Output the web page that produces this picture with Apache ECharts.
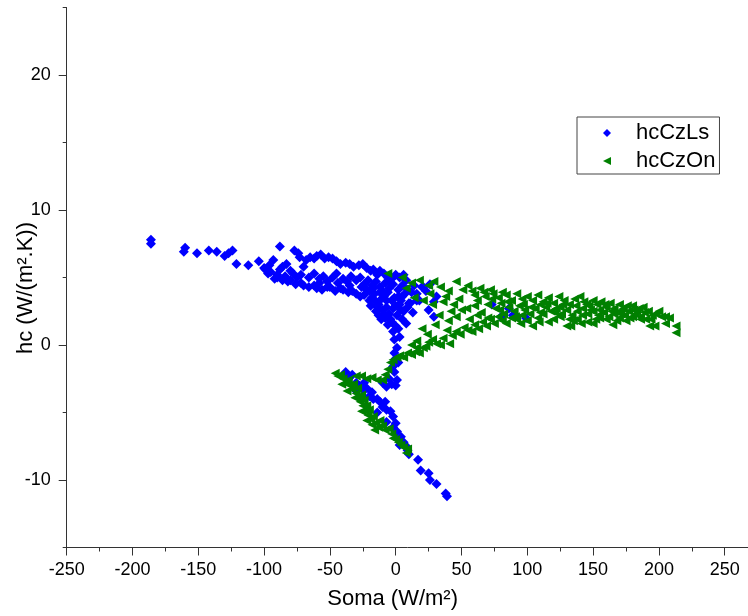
<!DOCTYPE html>
<html><head><meta charset="utf-8">
<script src="https://cdn.jsdelivr.net/npm/echarts@6/dist/echarts.min.js"></script>
<style>html,body{margin:0;padding:0;background:#fff}#c{width:748px;height:616px}</style>
</head><body><div id="c"></div>
<script>
const seriesNames = ['hcCzLs', 'hcCzOn'];
const xName = 'Soma (W/m²)';
const yName = 'hc (W/(m².K))';

// hcCzLs (blue diamonds): [Soma, hc]
const hcCzLs = [
[-186,7.8],[-186,7.5],[-160,7.2],[-161,6.9],[-151,6.8],[-142,7.0],[-136,6.9],[-130,6.6],[-127,6.8],[-124,7.0],
[-121,6.0],[-112,5.9],[-104,6.2],[-99,5.6],[-96,5.9],[-93,6.3],[-88,7.3],[-90,5.2],[-86,5.8],[-83,6.0],
[-80,5.5],[-77,7.0],[-74,6.8],[-73,6.5],[-70,5.8],[-68,6.3],[-65,6.5],[-62,6.4],[-60,6.6],[-57,6.7],
[-54,6.4],[-51,6.5],[-48,6.4],[-45,6.2],[-45,5.3],[-42,6.0],[-38,6.1],[-35,6.0],[-32,5.8],[-28,5.9],
[-25,6.0],[-22,5.7],[-19,5.5],[-17,5.6],[-14,5.2],[-12,5.5],[-9,5.3],[-6,5.0],[-3,4.9],[0,5.2],[3,5.0],[6,5.2],[8,4.8],
[-95,5.4],[-88,5.6],[-84,5.1],[-78,5.3],[-75,5.0],[-72,5.2],[-66,5.0],[-62,5.3],[-58,4.9],[-55,5.1],
[-52,4.7],[-48,5.0],[-44,4.6],[-40,4.9],[-37,4.7],[-34,5.1],[-30,4.8],[-27,5.0],[-24,4.5],[-21,4.8],
[-18,4.4],[-15,4.7],[-12,4.3],[-8,4.6],[-5,4.2],[-2,4.5],[2,4.1],[5,4.4],[9,4.1],[12,3.9],[16,3.8],[20,4.3],[23,4.0],[18,3.3],[11,3.1],
[-100,5.7],[-97,5.3],[-92,4.9],[-90,5.0],[-86,4.8],[-82,4.7],[-80,4.8],[-76,4.5],[-72,4.6],[-70,4.4],
[-66,4.3],[-62,4.4],[-60,4.2],[-56,4.1],[-52,4.3],[-50,4.3],[-46,4.0],[-42,4.2],[-40,4.1],[-36,3.9],
[-33,4.0],[-30,3.8],[-27,3.6],[-24,3.7],[-20,3.3],[-18,3.5],[-15,3.2],[-13,3.0],[-10,2.6],[-9,3.6],
[-7,2.8],[-5,2.3],[-4,1.9],[-2,2.7],[0,1.4],[1,2.2],[3,3.0],[5,1.9],[6,2.5],[-8,2.0],[-3,3.3],[2,3.6],
[-12,3.9],[-15,2.5],[-11,1.9],[-6,1.5],[-2,1.0],[-1,0.4],[3,0.6],[1,-0.2],[-1,-0.6],[0,-1.0],[-2,-1.6],
[-1,-2.0],[1,-2.6],[0,-3.0],[-3,-2.9],[-7,-3.1],[-10,-2.8],[-5,-2.5],[2,-1.3],
[10,3.1],[16,3.3],[21,4.3],[26,4.5],[29,3.2],[29,2.1],[31,3.6],[25,2.6],[13,2.4],[8,1.6],
[-20,4.0],[-16,3.8],[-11,3.4],[-6,3.9],[-1,3.5],[4,3.3],[7,3.8],[-14,2.8],[-9,2.3],[-3,1.7],[2,1.2],[4,2.6],[-17,4.2],[-22,4.1],
[-19,2.9],[-13,2.2],[-7,3.3],[0,2.9],[5,3.6],[9,2.8],[-4,4.6],[-10,4.0],[14,4.4],[-26,4.3],[-35,4.4],[-58,4.6],
[73,3.0],[80,2.1],[89,2.2],[99,2.0],[86,2.7],
[-38,-2.0],[-35,-2.4],[-33,-2.2],[-30,-2.8],[-28,-3.0],[-25,-3.3],[-22,-3.2],[-20,-3.8],[-17,-4.0],[-14,-4.0],
[-12,-4.2],[-10,-4.6],[-7,-4.8],[-4,-4.9],[-2,-5.3],[-7,-5.7],[-2,-6.1],[1,-6.4],[4,-6.8],[6,-7.2],
[8,-7.5],[10,-8.1],[17,-8.5],[19,-9.3],[25,-9.5],[26,-10.0],[31,-10.3],[38,-11.0],[39,-11.2],
[-26,-4.0],[-18,-3.5],[-8,-4.2],[-14,-5.0],[0,-5.8],[3,-7.4],[9,-7.8],[-30,-3.4],[-24,-2.8]
];

// hcCzOn (green left triangles): [Soma, hc]
const hcCzOn = [
[-46,-2.1],[-44,-2.3],[-42,-2.2],[-40,-2.5],[-38,-2.8],[-36,-2.6],[-35,-3.0],[-33,-3.3],[-32,-2.9],[-30,-3.6],
[-29,-3.2],[-28,-3.9],[-27,-4.2],[-26,-3.7],[-25,-4.5],[-24,-4.1],[-23,-4.9],[-22,-4.5],[-21,-5.2],[-20,-4.8],
[-19,-5.5],[-18,-5.9],[-17,-5.3],[-15,-5.8],[-13,-6.1],[-12,-5.6],[-10,-6.0],[-8,-6.3],[-5,-6.2],[-3,-6.6],
[-2,-6.9],[0,-7.0],[2,-7.2],[4,-7.4],[6,-7.6],[8,-8.0],[9,-7.7],[-31,-3.9],[-26,-4.9],[-22,-5.6],[-16,-6.3],[-37,-3.4],[-41,-2.9],
[-30,-2.3],[-26,-2.3],[-22,-2.5],[-18,-2.4],[-14,-2.6],[-10,-2.6],[-8,-2.2],[-6,-1.8],[-4,-1.3],[-2,-1.1],
[1,-0.9],[3,-0.8],[6,-0.9],[9,-0.6],[12,-0.7],[15,-0.5],[18,-0.6],[21,-0.2],[23,-0.1],[25,0.2],
[28,0.4],[31,0.1],[34,0.0],[36,0.5],[39,1.1],[41,0.1],[43,0.7],[46,1.0],[49,0.8],[52,1.3],
[55,1.1],[58,1.0],[60,1.5],[63,1.2],[66,1.7],[69,1.4],[72,1.9],[75,1.6],[78,2.1],[81,1.8],
[84,1.6],[88,2.0],[92,1.9],[96,2.2],[100,1.8],[104,1.4],[108,2.0],[112,2.3],[116,1.7],[120,1.9],
[125,2.1],[130,1.4],[133,1.4],[138,1.9],[142,2.2],[146,1.7],[150,1.6],[155,2.0],[160,1.9],[165,1.5],
[170,2.0],[175,1.8],[180,2.1],[186,1.9],[193,1.4],[197,1.4],[205,1.6],[213,1.4],[213,0.9],
[-6,5.3],[5,5.0],[12,4.6],[18,4.8],[25,4.4],[29,4.7],[34,4.3],[40,4.0],[46,4.7],[51,4.1],
[55,4.4],[58,4.0],[60,3.7],[64,4.2],[68,3.6],[72,4.1],[74,3.8],[78,3.5],[81,3.9],[84,3.7],
[88,3.3],[92,3.8],[96,3.4],[100,3.6],[104,3.3],[108,3.7],[112,3.2],[116,3.5],[120,3.1],[124,3.6],
[128,3.3],[132,3.0],[136,3.4],[140,3.6],[143,3.2],[147,2.9],[150,3.3],[153,3.0],[156,3.2],[160,2.8],
[163,3.1],[166,2.7],[170,3.0],[173,2.7],[177,2.5],[181,2.6],[185,2.7],[189,2.4],[192,2.5],[195,2.2],
[198,2.3],[202,2.1],[205,2.1],[208,2.0],
[14,3.5],[21,3.3],[28,3.0],[36,3.2],[44,3.0],[50,2.6],[54,2.7],[60,2.9],[65,2.4],[70,3.0],
[76,2.7],[82,2.3],[86,2.8],[90,2.5],[94,2.9],[98,2.6],[102,2.3],[106,2.7],[110,2.4],[114,2.8],
[118,2.5],[122,2.7],[126,2.3],[130,2.6],[134,2.2],[138,2.5],[142,2.7],[146,2.3],[150,2.5],[154,2.2],
[158,2.4],[162,2.1],[166,2.3],[170,2.5],[174,2.2],[178,2.0],[182,2.3],[186,2.1],[190,1.9],
[33,2.2],[40,1.8],[46,2.1],[56,1.9],[62,2.2],[30,1.5],[24,0.8],[20,1.2],[16,0.3],[12,0.0],[16,-0.2],
[70,2.0],[80,3.1],[95,1.6],[110,3.0],[125,2.8],[135,1.8],[145,3.0],[155,2.6],[168,1.8],[180,2.9],
[62,3.3],[67,3.9],[73,3.4],[79,2.6],[85,3.2],[91,2.1],[97,3.0],[103,2.8],[109,1.7],[115,3.1],
[121,2.4],[127,3.0],[132,1.9],[137,2.9],[141,1.6],[148,2.6],[152,1.9],[159,3.0],[164,2.5],[171,2.3],
[176,2.9],[183,2.5],[188,2.8],[194,1.9],[200,2.5],[48,3.4],[42,2.5],[38,3.6],[26,3.8],[8,4.2]
];

const FONT = 'Liberation Sans, Arial, sans-serif';
const AXIS_COLOR = '#333';
const chart = echarts.init(document.getElementById('c'), null, {renderer: 'canvas'});
const triPath = 'path://M0,5L10,0L10,10Z';

chart.setOption({
  animation: false,
  backgroundColor: '#fff',
  grid: [
    {left: 66.7, top: 7.5, width: 723.8, height: 540, outerBoundsMode: 'none', containLabel: false},
    {left: 66.7, top: 75, width: 723.8, height: 405, outerBoundsMode: 'none', containLabel: false}
  ],
  legend: {
    orient: 'vertical',
    left: 577, top: 117,
    padding: [5, 4, 2, 26],
    itemGap: 6,
    itemWidth: 8, itemHeight: 8,
    borderColor: '#444', borderWidth: 1,
    textStyle: {fontFamily: FONT, fontSize: 22, color: '#000', padding: [0, 0, 0, 20]},
    data: [
      {name: seriesNames[0], icon: 'diamond'},
      {name: seriesNames[1], icon: triPath}
    ]
  },
  xAxis: [
    {
      type: 'value', gridIndex: 0, min: -250, max: 300, interval: 50,
      name: xName, nameLocation: 'middle', nameGap: 40, nameMoveOverlap: false,
      nameTextStyle: {fontFamily: FONT, fontSize: 22, color: '#000', padding: [0, 72, 0, 0]},
      axisLine: {onZero: false, lineStyle: {color: AXIS_COLOR, width: 1}},
      axisTick: {show: true, inside: false, length: 8, lineStyle: {color: AXIS_COLOR}},
      minorTick: {show: true, splitNumber: 2, length: 4, lineStyle: {color: AXIS_COLOR}},
      axisLabel: {fontFamily: FONT, fontSize: 18, color: '#000', margin: 14},
      splitLine: {show: false}, minorSplitLine: {show: false}
    },
    {type: 'value', gridIndex: 1, min: -250, max: 300, show: false}
  ],
  yAxis: [
    {
      type: 'value', gridIndex: 0, min: -15, max: 25, interval: 5,
      name: yName, nameLocation: 'middle', nameGap: 30, nameMoveOverlap: false,
      nameTextStyle: {fontFamily: FONT, fontSize: 22, color: '#000', padding: [0, 21, 0, 0]},
      axisLine: {onZero: false, lineStyle: {color: AXIS_COLOR, width: 1}},
      axisTick: {show: true, inside: false, length: 4, lineStyle: {color: AXIS_COLOR}},
      axisLabel: {fontFamily: FONT, fontSize: 18, color: '#000', margin: 16,
        formatter: v => (v % 10 === 0 ? String(v) : '')},
      splitLine: {show: false}
    },
    {
      type: 'value', gridIndex: 1, min: -10, max: 20, interval: 10,
      axisLine: {show: true, onZero: false, lineStyle: {color: AXIS_COLOR, opacity: 0}},
      axisTick: {show: true, inside: false, length: 8, lineStyle: {color: AXIS_COLOR, width: 1}},
      axisLabel: {show: false}, splitLine: {show: false}
    }
  ],
  series: [
    {
      name: seriesNames[0], type: 'scatter', xAxisIndex: 0, yAxisIndex: 0,
      symbol: 'diamond', symbolSize: 10,
      itemStyle: {color: '#0000ff', opacity: 1},
      data: hcCzLs
    },
    {
      name: seriesNames[1], type: 'scatter', xAxisIndex: 0, yAxisIndex: 0,
      symbol: triPath, symbolSize: 9,
      itemStyle: {color: '#008000', opacity: 1},
      data: hcCzOn
    }
  ]
});
</script>
</body></html>
